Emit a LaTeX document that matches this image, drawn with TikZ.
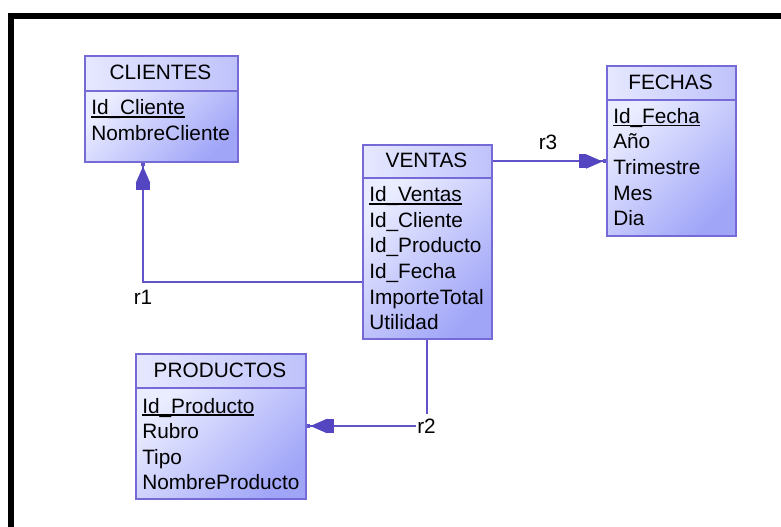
\documentclass[tikz,border=0pt]{standalone}
\usepackage{fontspec}
\setmainfont{Liberation Sans}
\usetikzlibrary{arrows.meta}

\definecolor{edgeC}{RGB}{118,106,214}
\definecolor{lineC}{RGB}{96,84,200}
\definecolor{arrC}{RGB}{84,70,192}
\definecolor{fillL}{RGB}{234,236,255}
\definecolor{fillD}{RGB}{160,165,248}
\definecolor{hdrL}{RGB}{230,232,255}
\definecolor{hdrD}{RGB}{190,194,250}

% primary key: text with a rule under it
\newcommand\pkey[1]{\setbox0\hbox{#1}\rlap{\rule[-2.2pt]{\wd0}{1.1pt}}\box0}

\tikzset{
  er/.style={font=\fontsize{15.6}{18}\selectfont, text=black},
  hdrbox/.style={draw=edgeC, line width=1.5pt, anchor=north west, inner sep=0pt,
    shading=axis, left color=hdrL, right color=hdrD},
  bodybox/.style={draw=edgeC, line width=1.5pt, anchor=north west, inner sep=0pt,
    top color=fillL, bottom color=fillD, shading angle=45},
  rowtext/.style={er, anchor=base west, inner sep=0pt},
  lbl/.style={er, inner xsep=0.5pt, inner ysep=3pt},
  conn/.style={draw=lineC, line width=1.5pt},
  relarrow/.style={-{Rectangle[length=5pt,width=10.5pt,sep=0pt,color=arrC]
      Triangle[length=12.5pt,width=10.5pt,sep=0pt,color=arrC]
      Rectangle[length=2.5pt,width=3pt,sep=0pt]}},
}

% #1 name, #2 left, #3 right, #4 top, #5 divider, #6 bottom,
% #7 first baseline, #8 title, #9 rows
\newcommand\ertable[9]{%
  \node[hdrbox, minimum width={(#3-#2)*0.75pt}, minimum height={(#5-#4)*0.75pt}]
    (#1-h) at (#2,#4) {};
  \node[er, inner sep=0pt] (#1-t) at ({(#2+#3)/2},{(#4+#5)/2}) {#8};
  \node[bodybox, minimum width={(#3-#2)*0.75pt}, minimum height={(#6-#5)*0.75pt}]
    (#1-b) at (#2,#5) {};
  \foreach \rowtxt [count=\i from 0] in {#9} {
    \node[rowtext] (#1-\i) at ({#2+7},{#7+25.6*\i}) {\rowtxt};
  }%
}

\begin{document}
\begin{tikzpicture}[x=0.75pt, y=-0.75pt]
  \useasboundingbox (0,0) rectangle (781,527);

  % black frame, top and left edges
  \draw[line width=4.2pt, line join=miter] (10.8,527) -- (10.8,15.8) -- (781,15.8);

  \ertable{clientes}{84}{237}{55}{90}{161}{115}{CLIENTES}
    {\pkey{Id\_Cliente}, NombreCliente}
  \ertable{ventas}{362}{491}{144}{177}{338}{201.7}{VENTAS}
    {\pkey{Id\_Ventas}, Id\_Cliente, Id\_Producto, Id\_Fecha, ImporteTotal, Utilidad}
  \ertable{fechas}{606}{735}{65}{99}{235}{123.3}{FECHAS}
    {\pkey{Id\_Fecha}, Año, Trimestre, Mes, Dia}
  \ertable{productos}{135}{305}{353}{387}{498}{413}{PRODUCTOS}
    {\pkey{Id\_Producto}, Rubro, Tipo, NombreProducto}

  % r1: VENTAS -> CLIENTES
  \coordinate (r1c) at (143,281.7);
  \draw[conn, relarrow] (ventas-b.west |- r1c) -- (r1c) -- (clientes-b.south -| r1c);
  \node[lbl] (r1) at (143,297.5) {r1};

  % r2: VENTAS -> PRODUCTOS
  \node[lbl] (r2) at (426.5,426) {r2};
  \draw[conn] (ventas-b.south -| r2) -- (r2.north);
  \draw[conn, relarrow] (r2.west) -- (productos-b.east |- r2.west);

  % r3: VENTAS -> FECHAS
  \draw[conn, relarrow] (ventas-h.east) -- (fechas-b.west |- ventas-h.east);
  \node[lbl] (r3) at (548,142) {r3};
\end{tikzpicture}
\end{document}
